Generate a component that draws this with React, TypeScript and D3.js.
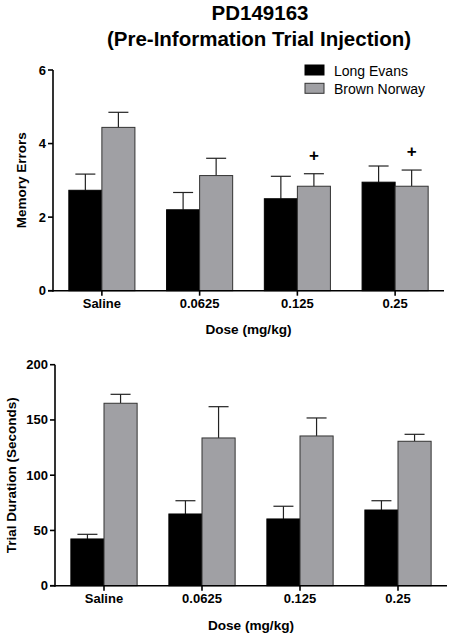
import React from "react";
import * as d3 from "d3";

const doses = ["Saline", "0.0625", "0.125", "0.25"];
const seriesNames = ["Long Evans", "Brown Norway"];
const seriesColors = ["#000000", "#a0a0a4"];

const errLE = [2.73, 2.2, 2.5, 2.95];
const errLEsem = [0.44, 0.47, 0.61, 0.44];
const errBN = [4.44, 3.13, 2.84, 2.84];
const errBNsem = [0.41, 0.47, 0.34, 0.44];
const errTicks = [0, 2, 4, 6];
const errPlus = [false, false, true, true];

const durLE = [42.3, 64.9, 60.4, 68.5];
const durLEsem = [4.2, 12.0, 11.5, 8.4];
const durBN = [165.1, 133.7, 135.5, 130.7];
const durBNsem = [8.1, 28.3, 16.3, 6.3];
const durTicks = [0, 50, 100, 150, 200];

const FONT = "'Liberation Sans', Arial, Helvetica, sans-serif";

type PanelProps = {
  x0: number;
  x1: number;
  yTop: number;
  yBottom: number;
  yMax: number;
  ticks: number[];
  le: number[];
  leSem: number[];
  bn: number[];
  bnSem: number[];
  plus?: boolean[];
  yLabel: string;
  yLabelX: number;
  tickLabelY: number;
  xLabelY: number;
};

function Panel(p: PanelProps) {
  const x = d3.scaleBand<string>().domain(doses).range([p.x0, p.x1]).padding(0);
  const y = d3.scaleLinear().domain([0, p.yMax]).range([p.yBottom, p.yTop]);
  const bw = x.bandwidth() * 0.338;
  const cap = 10;
  const series = [
    { vals: p.le, sem: p.leSem, color: seriesColors[0], stroke: "#000", off: -bw },
    { vals: p.bn, sem: p.bnSem, color: seriesColors[1], stroke: "#333", off: 0 },
  ];
  return (
    <g>
      {series.map((s, si) =>
        doses.map((d, i) => {
          const c = (x(d) as number) + x.bandwidth() / 2;
          const bx = c + s.off;
          const top = y(s.vals[i]);
          const etop = y(s.vals[i] + s.sem[i]);
          const mid = bx + bw / 2;
          return (
            <g key={`${si}-${i}`}>
              <line x1={mid} x2={mid} y1={top} y2={etop} stroke="#222" strokeWidth={1.2} />
              <line x1={mid - cap} x2={mid + cap} y1={etop} y2={etop} stroke="#222" strokeWidth={1.2} />
              <rect x={bx} y={top} width={bw} height={p.yBottom - top} fill={s.color} stroke={s.stroke} strokeWidth={1} />
            </g>
          );
        })
      )}
      {p.plus &&
        doses.map((d, i) =>
          p.plus![i] ? (
            <text
              key={"p" + i}
              x={(x(d) as number) + x.bandwidth() / 2 + bw / 2}
              y={y(p.bn[i] + p.bnSem[i]) - 13}
              textAnchor="middle"
              fontFamily={FONT}
              fontWeight="bold"
              fontSize={17}
            >
              +
            </text>
          ) : null
        )}
      {/* axes */}
      <line x1={p.x0} x2={p.x0} y1={p.yTop} y2={p.yBottom + 1} stroke="#000" strokeWidth={1.6} />
      <line x1={p.x0 - 5} x2={p.x1} y1={p.yBottom} y2={p.yBottom} stroke="#000" strokeWidth={1.6} />
      {p.ticks.map((t) => (
        <g key={t}>
          <line x1={p.x0 - 5} x2={p.x0} y1={y(t)} y2={y(t)} stroke="#000" strokeWidth={1.6} />
          <text
            x={p.x0 - 7}
            y={y(t) + 4.5}
            textAnchor="end"
            fontFamily={FONT}
            fontWeight="bold"
            fontSize={13}
          >
            {t}
          </text>
        </g>
      ))}
      {doses.map((d) => {
        const c = (x(d) as number) + x.bandwidth() / 2;
        return (
          <g key={d}>
            <line x1={c} x2={c} y1={p.yBottom} y2={p.yBottom + 5} stroke="#000" strokeWidth={1.6} />
            <text x={c} y={p.tickLabelY} textAnchor="middle" fontFamily={FONT} fontWeight="bold" fontSize={13}>
              {d}
            </text>
          </g>
        );
      })}
      <text
        x={(p.x0 + p.x1) / 2}
        y={p.xLabelY}
        textAnchor="middle"
        fontFamily={FONT}
        fontWeight="bold"
        fontSize={13.6}
      >
        Dose (mg/kg)
      </text>
      <text
        transform={`translate(${p.yLabelX},${(p.yTop + p.yBottom) / 2}) rotate(-90)`}
        textAnchor="middle"
        fontFamily={FONT}
        fontWeight="bold"
        fontSize={13.5}
      >
        {p.yLabel}
      </text>
    </g>
  );
}

export default function App() {
  return (
    <svg
      width={452}
      height={637}
      style={{ position: "absolute", left: 0, top: 0, background: "#fff" }}
    >
      <rect width={452} height={637} fill="#fff" />
      <text x={260} y={20} textAnchor="middle" fontFamily={FONT} fontWeight="bold" fontSize={20.5}>
        PD149163
      </text>
      <text x={259} y={46} textAnchor="middle" fontFamily={FONT} fontWeight="bold" fontSize={20.5}>
        (Pre-Information Trial Injection)
      </text>
      {/* legend */}
      {seriesNames.map((n, i) => (
        <g key={n}>
          <rect
            x={305}
            y={65 + i * 18.3}
            width={19}
            height={10}
            fill={seriesColors[i]}
            stroke={i === 0 ? "#000" : "#333"}
            strokeWidth={1}
          />
          <text x={334} y={75.5 + i * 18.3} fontFamily={FONT} fontSize={14}>
            {n}
          </text>
        </g>
      ))}
      <Panel
        x0={53}
        x1={444}
        yTop={70}
        yBottom={290.7}
        yMax={6}
        ticks={errTicks}
        le={errLE}
        leSem={errLEsem}
        bn={errBN}
        bnSem={errBNsem}
        plus={errPlus}
        yLabel="Memory Errors"
        yLabelX={26}
        tickLabelY={308}
        xLabelY={334}
      />
      <Panel
        x0={55}
        x1={447}
        yTop={364.7}
        yBottom={585.7}
        yMax={200}
        ticks={durTicks}
        le={durLE}
        leSem={durLEsem}
        bn={durBN}
        bnSem={durBNsem}
        yLabel="Trial Duration (Seconds)"
        yLabelX={16}
        tickLabelY={603}
        xLabelY={630}
      />
    </svg>
  );
}
